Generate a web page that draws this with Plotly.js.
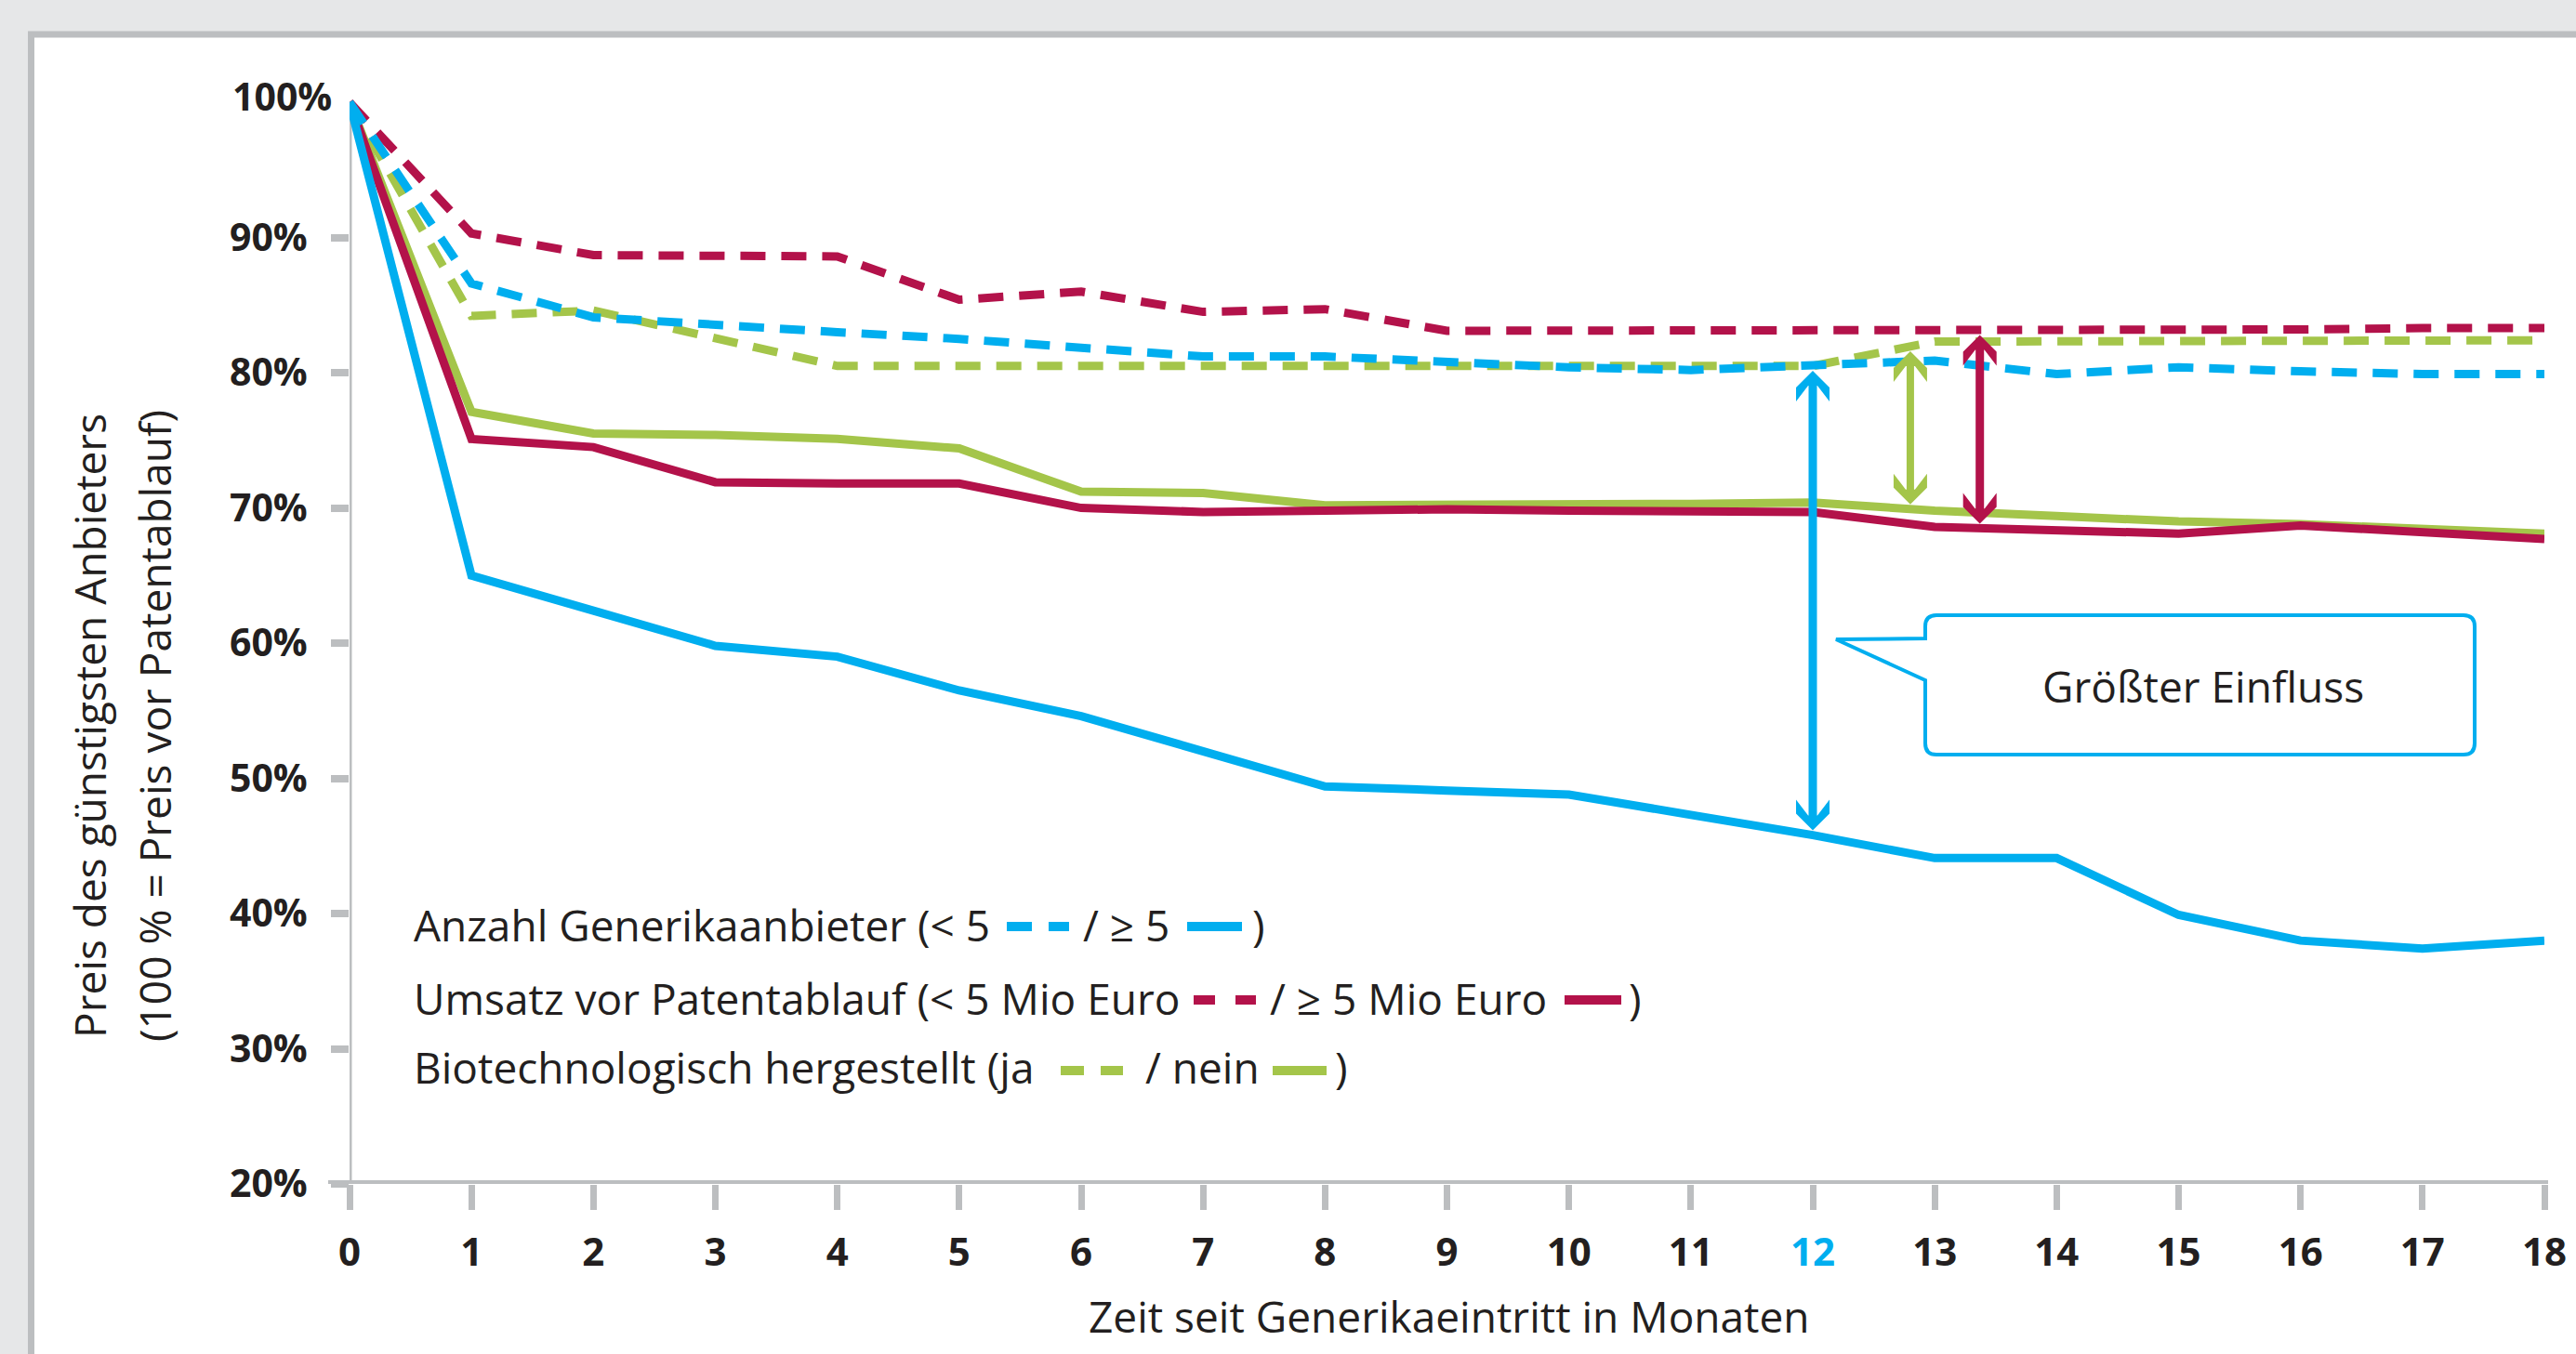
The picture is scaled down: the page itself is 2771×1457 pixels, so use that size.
<!DOCTYPE html>
<html>
<head>
<meta charset="utf-8">
<script src="https://cdn.plot.ly/plotly-3.0.1.min.js"></script>
<style>
  html, body { margin: 0; padding: 0; background: #e6e7e8; }
  #chart { width: 2771px; height: 1457px; }
</style>
</head>
<body>
<div id="chart"></div>
<script>
// ---------------- DATA ----------------
const months = [0,1,2,3,4,5,6,7,8,9,10,11,12,13,14,15,16,17,18];

// Anzahl Generikaanbieter < 5 (blue dashed) / >= 5 (blue solid)
const anbieterUnter5 = [100,86.6,84.1,83.5,83.0,82.5,81.8,81.2,81.2,80.8,80.4,80.2,80.5,80.9,79.9,80.4,80.1,79.9,79.9];
const anbieterAb5    = [100,65.0,62.4,59.8,59.0,56.5,54.6,52.0,49.4,49.1,48.8,47.3,45.8,44.1,44.1,39.9,38.0,37.4,38.0];

// Umsatz vor Patentablauf < 5 Mio Euro (red dashed) / >= 5 Mio Euro (red solid)
const umsatzUnter5Mio = [100,90.3,88.7,88.6,88.6,85.4,86.0,84.5,84.7,83.1,83.1,83.1,83.1,83.1,83.2,83.2,83.2,83.3,83.3];
const umsatzAb5Mio    = [100,75.1,74.5,71.9,71.8,71.8,70.0,69.7,69.8,69.9,69.8,69.7,69.7,68.6,68.3,68.1,68.7,68.2,67.7];

// Biotechnologisch hergestellt ja (green dashed) / nein (green solid)
const biotechJa   = [100,84.2,84.6,82.5,80.5,80.5,80.5,80.5,80.5,80.5,80.5,80.5,80.5,82.3,82.3,82.3,82.3,82.4,82.4];
const biotechNein = [100,77.1,75.5,75.4,75.1,74.4,71.2,71.1,70.2,70.2,70.3,70.3,70.4,69.8,69.4,69.0,68.8,68.4,68.1];

const yTickVals = [20,30,40,50,60,70,80,90];
const yTickText = ['20%','30%','40%','50%','60%','70%','80%','90%'];
const yTopLabel = '100%';
const highlightMonth = 12;

const xTitle = 'Zeit seit Generikaeintritt in Monaten';
const yTitleLines = ['Preis des günstigsten Anbieters', '(100 % = Preis vor Patentablauf)'];
const calloutText = 'Größter Einfluss';

const legendTexts = [
  ['Anzahl Generikaanbieter (< 5', '/ ≥ 5', ')'],
  ['Umsatz vor Patentablauf (< 5 Mio Euro', '/ ≥ 5 Mio Euro', ')'],
  ['Biotechnologisch hergestellt (ja', '/ nein', ')']
];

// Difference arrows: month position and the pair of series they connect
const arrowMonths = [12, 12.8, 13.37];

// ---------------- STYLE / LAYOUT ----------------
const BLUE = '#00aeef', RED = '#b3124a', GREEN = '#a4c54a';
const GREY = '#bcbec0', TEXT = '#231f20';
const FONT = 'Open Sans, Noto Sans, sans-serif';
const DASH = '27px,17px';
const LW = 9;

const W = 2771, H = 1457;
const M = {l: 376, r: 34, t: 81, b: 183};
const PW = W - M.l - M.r, PH = H - M.t - M.b;
const px2x = p => (p - M.l) / PW;
const px2y = p => (H - M.b - p) / PH;

function interp(arr, x) {
  const i = Math.floor(x), f = x - i;
  if (i >= arr.length - 1) return arr[arr.length - 1];
  return arr[i] + (arr[i + 1] - arr[i]) * f;
}

function line(y, color, dashed, name) {
  return {
    x: months, y: y, type: 'scatter', mode: 'lines', name: name,
    line: {color: color, width: LW, dash: dashed ? DASH : 'solid', shape: 'linear'},
    hoverinfo: 'skip', showlegend: false
  };
}

const traces = [
  line(biotechJa, GREEN, true, 'Biotech ja'),
  line(biotechNein, GREEN, false, 'Biotech nein'),
  line(umsatzUnter5Mio, RED, true, 'Umsatz < 5 Mio'),
  line(umsatzAb5Mio, RED, false, 'Umsatz ≥ 5 Mio'),
  line(anbieterUnter5, BLUE, true, 'Anbieter < 5'),
  line(anbieterAb5, BLUE, false, 'Anbieter ≥ 5')
];

const shapes = [];
const annotations = [];

// white panel with grey border
shapes.push({type: 'rect', xref: 'paper', yref: 'paper', layer: 'below',
  x0: px2x(33.5), x1: px2x(2830), y0: px2y(37), y1: px2y(1520),
  fillcolor: '#ffffff', line: {color: GREY, width: 7}});

// axis lines
shapes.push({type: 'line', xref: 'x', yref: 'y', layer: 'below',
  x0: 0, x1: 0, y0: 20, y1: 100, line: {color: GREY, width: 5}});
shapes.push({type: 'line', xref: 'paper', yref: 'y', layer: 'below',
  x0: px2x(353), x1: px2x(2741), y0: 20, y1: 20, line: {color: GREY, width: 8}});

// double arrows
const arrowPairs = [[anbieterUnter5, anbieterAb5, BLUE], [biotechJa, biotechNein, GREEN], [umsatzUnter5Mio, umsatzAb5Mio, RED]];
const headUp = 'M0,0 L18,-18 L18,-33 L5,-16 L-5,-16 L-18,-33 L-18,-18 Z';
const headDown = 'M0,0 L18,18 L18,33 L5,16 L-5,16 L-18,33 L-18,18 Z';
arrowMonths.forEach((m, i) => {
  const [hi, lo, c] = arrowPairs[i];
  const yTop = interp(hi, m) - 0.35;
  const yBot = interp(lo, m) + 0.35;
  shapes.push({type: 'line', xref: 'x', yref: 'y', x0: m, x1: m, y0: yTop - 1.0, y1: yBot + 1.0,
    line: {color: c, width: i === 1 ? 8 : 9}});
  shapes.push({type: 'path', xref: 'x', yref: 'y', xsizemode: 'pixel', ysizemode: 'pixel',
    xanchor: m, yanchor: yTop, path: headUp, fillcolor: c, line: {width: 0}});
  shapes.push({type: 'path', xref: 'x', yref: 'y', xsizemode: 'pixel', ysizemode: 'pixel',
    xanchor: m, yanchor: yBot, path: headDown, fillcolor: c, line: {width: 0}});
});

// callout box
function pxPath(segs) {
  return segs.map(s => {
    if (s[0] === 'Z') return 'Z';
    const out = [s[0]];
    for (let k = 1; k < s.length; k += 2) out.push(px2x(s[k]).toFixed(5) + ',' + px2y(s[k + 1]).toFixed(5));
    return out.join(' ');
  }).join(' ');
}
const bx0 = 2071, bx1 = 2662, by0 = 662, by1 = 812, r = 12;
shapes.push({type: 'path', xref: 'paper', yref: 'paper', fillcolor: '#ffffff', line: {color: BLUE, width: 4},
  path: pxPath([
    ['M', bx0 + r, by0], ['L', bx1 - r, by0], ['Q', bx1, by0, bx1, by0 + r],
    ['L', bx1, by1 - r], ['Q', bx1, by1, bx1 - r, by1], ['L', bx0 + r, by1],
    ['Q', bx0, by1, bx0, by1 - r], ['L', bx0, 732], ['L', 1975, 688], ['L', bx0, 687],
    ['L', bx0, by0 + r], ['Q', bx0, by0, bx0 + r, by0], ['Z']
  ])});
annotations.push({xref: 'paper', yref: 'paper', x: px2x(2370), y: px2y(738), xanchor: 'center', yanchor: 'middle',
  text: calloutText, showarrow: false, font: {family: FONT, size: 46, color: TEXT}});

// legend
const legendRows = [
  {ty: 995, sy: 997, c: BLUE,  tx: [443, 1163, 1345], dashes: [[1083, 1110], [1128, 1150]], solid: [1277, 1336]},
  {ty: 1074, sy: 1076, c: RED, tx: [443, 1364, 1750], dashes: [[1284, 1307], [1329, 1351]], solid: [1683, 1744]},
  {ty: 1148, sy: 1152, c: GREEN, tx: [443, 1230, 1434], dashes: [[1141, 1166], [1184, 1208]], solid: [1369, 1427]}
];
legendRows.forEach((row, i) => {
  legendTexts[i].forEach((t, j) => {
    annotations.push({xref: 'paper', yref: 'paper', x: px2x(row.tx[j]), y: px2y(row.ty),
      xanchor: 'left', yanchor: 'middle', text: t, showarrow: false,
      font: {family: FONT, size: 46, color: TEXT}});
  });
  row.dashes.concat([row.solid]).forEach(seg => {
    shapes.push({type: 'line', xref: 'paper', yref: 'paper', x0: px2x(seg[0]), x1: px2x(seg[1]),
      y0: px2y(row.sy), y1: px2y(row.sy), line: {color: row.c, width: 10}});
  });
});

// axis titles and top tick label
annotations.push({xref: 'paper', yref: 'paper', x: px2x(1559), y: px2y(1416), xanchor: 'center', yanchor: 'middle',
  text: xTitle, showarrow: false, font: {family: FONT, size: 46, color: TEXT}});
annotations.push({xref: 'paper', yref: 'paper', x: px2x(96), y: px2y(781), xanchor: 'center', yanchor: 'middle',
  text: yTitleLines[0], textangle: -90, showarrow: false, font: {family: FONT, size: 46, color: TEXT}});
annotations.push({xref: 'paper', yref: 'paper', x: px2x(166), y: px2y(781), xanchor: 'center', yanchor: 'middle',
  text: yTitleLines[1], textangle: -90, showarrow: false, font: {family: FONT, size: 46, color: TEXT}});
annotations.push({xref: 'paper', yref: 'paper', x: px2x(359), y: px2y(103), xanchor: 'right', yanchor: 'middle',
  text: '<b>' + yTopLabel + '</b>', showarrow: false, font: {family: FONT, size: 41, color: TEXT}});

const xTickText = months.map(m => m === highlightMonth ? '<span style="color:' + BLUE + '">' + m + '</span>' : String(m));

const layout = {
  width: W, height: H,
  margin: {l: M.l, r: M.r, t: M.t, b: M.b, pad: 0},
  paper_bgcolor: '#e6e7e8',
  plot_bgcolor: 'rgba(0,0,0,0)',
  showlegend: false,
  xaxis: {
    range: [0, 18], showgrid: false, zeroline: false, showline: false,
    tickmode: 'array', tickvals: months, ticktext: xTickText,
    ticks: 'outside', ticklen: 27, tickwidth: 7, tickcolor: GREY,
    ticklabelstandoff: 10,
    tickfont: {family: FONT, size: 42, color: TEXT, weight: 'bold'}
  },
  yaxis: {
    range: [20, 102], showgrid: false, zeroline: false, showline: false,
    tickmode: 'array', tickvals: yTickVals, ticktext: yTickText,
    ticks: 'outside', ticklen: 19, tickwidth: 8, tickcolor: GREY,
    ticklabelstandoff: 17,
    tickfont: {family: FONT, size: 41, color: TEXT, weight: 'bold'}
  },
  shapes: shapes,
  annotations: annotations
};

Plotly.newPlot('chart', traces, layout, {displayModeBar: false, staticPlot: true});
</script>
</body>
</html>
